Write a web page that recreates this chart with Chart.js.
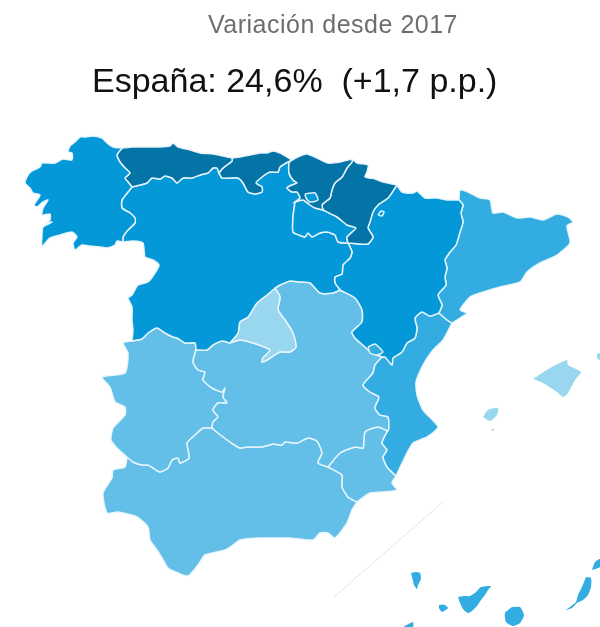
<!DOCTYPE html>
<html lang="es">
<head>
<meta charset="utf-8">
<title>Variación desde 2017</title>
<script src="https://cdn.jsdelivr.net/npm/chart.js@4/dist/chart.umd.min.js"></script>
<style>
    html, body { margin: 0; padding: 0; background: #fff; }
    #wrap { position: relative; width: 600px; height: 627px; overflow: hidden; font-family: "Liberation Sans", Arial, sans-serif; filter: blur(0.35px); }
    #mapChart { position: absolute; left: 0; top: 0; }
    .label { position: absolute; white-space: pre; line-height: 1; }
    #subtitle { left: 208px; top: 12px; font-size: 25px; letter-spacing: 0.5px; color: #6e6e6e; }
    #headline { left: 92px; top: 63px; font-size: 34px; color: #111; }
</style>
</head>
<body>
<div id="wrap">
    <canvas id="mapChart" width="600" height="627"></canvas>
    <div id="subtitle" class="label">Variación desde 2017</div>
    <div id="headline" class="label">España: 24,6%  (+1,7 p.p.)</div>
</div>
<script>
// Outlines, in map units. Shared borders are kept once and reused.
const galiciaCoast = [[122,148],[113,147],[107,143],[102,138],[93,136],[86,137],[80,137],[75,142],[70,146],[68,152],[72,153],[72,160],[63,159],[55,163],[47,163],[42,163],[40,167],[32,171],[28,175],[25,183],[30,188],[33,193],[40,195],[34,205],[37,207],[43,202],[48,200],[43,208],[42,215],[50,214],[50,220],[45,223],[52,222],[43,227],[42,235],[42,246],[50,238],[60,235],[72,232],[77,237],[73,243],[75,250],[82,245],[90,246],[100,247],[107,248],[115,245],[117,241],[123,242]];
const galiciaCyl = [[123,242],[123,237],[128,230],[135,223],[135,218],[130,213],[122,208],[122,200],[128,192],[132,187]];
const galiciaAsturias = [[132,187],[128,182],[125,178],[130,173],[125,168],[120,162],[117,155],[122,148]];
const asturiasCoast = [[122,148],[133,147],[147,147],[160,147],[170,146],[173,143],[178,147],[190,150],[200,153],[213,154],[223,156],[232,158]];
const asturiasCantabria = [[232,158],[232,161],[227,165],[222,169],[219,173]];
const asturiasCyl = [[132,187],[140,185],[147,183],[152,178],[160,179],[165,176],[172,178],[177,183],[183,178],[192,178],[200,175],[208,173],[213,168],[217,168],[219,173]];
const cantabriaCoast = [[232,158],[240,157],[250,155],[260,153],[267,153],[273,151],[280,153],[287,157],[292,160]];
const cantabriaCyl = [[219,173],[222,178],[230,178],[238,178],[243,183],[248,192],[255,194],[262,192],[262,187],[256,183],[262,177],[270,172],[278,172],[280,167],[286,163],[292,160]];
const basqueCoast = [[292,160],[300,156],[307,154],[317,158],[328,163],[340,162],[352,159]];
const basqueCyl = [[292,160],[289,163],[289,173],[293,180],[297,183],[292,185],[287,188],[292,192],[297,192],[300,198],[295,202]];
const basqueRioja = [[295,202],[303,200],[310,205],[315,208],[323,210]];
const basqueNavarra = [[323,210],[322,205],[325,202],[330,198],[332,190],[335,183],[342,177],[347,168],[352,162],[352,159]];
const riojaCyl = [[295,202],[293,217],[293,232],[299,235],[305,237],[308,233],[312,237],[320,233],[327,232],[335,235],[338,242],[348,243]];
const riojaNavarra = [[348,243],[347,237],[356,228],[347,225],[337,217],[323,210]];
const navarraCoast = [[352,159],[357,163],[368,165],[367,172],[365,177],[375,179],[383,182],[397,185]];
const navarraAragon = [[397,185],[395,188],[388,198],[378,205],[373,212],[370,222],[368,228],[373,237],[368,244],[360,244],[348,243]];
const cylPortugal = [[123,242],[133,241],[143,243],[145,257],[153,260],[159,265],[155,273],[148,282],[138,285],[132,295],[128,298],[132,307],[132,320],[133,330],[132,341]];
const cylExtremadura = [[132,341],[142,339],[148,333],[157,328],[165,333],[173,337],[177,338],[185,343],[195,343],[196,350]];
const cylClmWest = [[196,350],[207,350],[213,345],[222,341],[230,343]];
const cylMadrid = [[230,343],[238,333],[240,322],[248,317],[257,303],[267,295],[275,288]];
const cylClmEast = [[275,288],[280,285],[290,281],[300,282],[310,283],[320,293],[333,293],[340,290]];
const cylAragon = [[340,290],[335,283],[335,277],[342,274],[343,265],[350,258],[352,252],[348,243]];
const madridClm = [[275,288],[280,297],[278,310],[285,320],[293,333],[296,347],[290,352],[280,352],[267,360],[262,362],[263,358],[270,350],[253,343],[240,340],[230,343]];
const aragonCoastNorth = [[397,185],[402,192],[413,193],[417,191],[425,198],[437,198],[447,200],[459,200]];
const aragonCatalonia = [[459,200],[463,205],[461,213],[463,222],[460,232],[456,245],[450,252],[445,260],[447,268],[445,277],[446,285],[438,295],[442,305],[439,313]];
const aragonValencia = [[439,313],[430,316],[422,312],[415,318],[417,328],[415,338],[407,343],[402,352],[393,358],[392,365],[385,357],[382,357]];
const aragonClm = [[382,357],[372,353],[365,347],[355,338],[352,332],[362,322],[362,310],[355,298],[340,290]];
const cataloniaCoast = [[459,200],[460,190],[468,192],[480,198],[490,200],[493,213],[503,212],[517,218],[530,217],[543,220],[557,214],[568,217],[573,222],[567,226],[570,243],[557,255],[540,263],[527,272],[520,282],[500,287],[480,293],[470,297],[460,310],[467,313],[460,318],[452,323]];
const cataloniaValencia = [[452,323],[447,320],[439,313]];
const valenciaCoast = [[452,323],[443,340],[433,350],[423,365],[416,382],[417,395],[423,410],[438,427],[427,437],[413,443],[405,457],[396,476]];
const valenciaMurcia = [[396,476],[387,467],[383,457],[387,450],[382,443],[387,432],[388,431]];
const valenciaClm = [[388,431],[389,428],[388,417],[380,415],[375,408],[379,397],[370,392],[363,385],[373,373],[375,365],[382,357]];
const clmExtremadura = [[196,350],[193,362],[198,370],[205,372],[203,380],[212,388],[222,392],[225,388],[223,397],[227,403],[218,403],[213,410],[218,417],[213,422],[212,428]];
const extremaduraAndalucia = [[212,428],[203,428],[195,435],[187,443],[189,458],[180,463],[178,458],[172,460],[168,468],[160,472],[153,468],[148,465],[142,465],[133,462],[127,457]];
const extremaduraPortugal = [[132,341],[123,343],[128,353],[125,373],[102,377],[110,387],[115,402],[125,407],[125,415],[113,428],[111,440],[117,448],[127,457]];
const clmAndalucia = [[212,428],[218,433],[230,442],[240,448],[247,447],[262,447],[273,444],[282,445],[285,442],[297,443],[308,438],[317,441],[322,453],[318,463],[328,467]];
const clmMurcia = [[328,467],[340,453],[355,447],[363,448],[365,432],[378,427],[388,431]];
const andaluciaMurcia = [[328,467],[342,475],[342,487],[348,497],[357,502]];
const murciaCoast = [[357,502],[370,493],[382,492],[397,490],[392,483],[396,476]];
const andaluciaCoast = [[357,502],[352,510],[347,523],[335,538],[328,533],[320,533],[313,540],[290,538],[277,538],[257,538],[240,540],[233,545],[225,550],[205,555],[198,565],[188,576],[178,573],[168,568],[162,558],[157,550],[150,540],[148,527],[137,517],[118,512],[107,513],[103,493],[112,478],[113,470],[125,467],[127,457]];

// Enclaves and islands
const trevino = [[305,194],[315,193],[318,200],[310,202],[306,198]];
const petilla = [[378,215],[381,211],[384,212],[382,216]];
const ademuz = [[368,347],[375,344],[383,352],[377,355],[370,353]];
const mallorca = [[533,379],[550,368],[567,360],[568,365],[581,372],[575,380],[568,393],[563,397],[557,392],[543,383]];
const menorca = [[597,354],[600,353],[600,360],[597,358]];
const ibiza = [[483,417],[488,410],[498,408],[497,415],[490,421]];
const formentera = [[491,429],[494,429],[493,431]];
const laPalma = [[411,573],[415,572],[420,573],[421,579],[418,585],[417,589],[414,585],[413,581]];
const tenerife = [[458,597],[464,596],[470,596],[476,592],[481,587],[491,586],[488,590],[485,595],[481,600],[477,606],[472,611],[468,613],[463,609],[460,603]];
const gomera = [[439,605],[445,605],[448,608],[442,612],[439,608]];
const granCanaria = [[512,607],[520,607],[524,615],[520,623],[513,626],[506,622],[505,613]];
const fuerteventura = [[586,577],[591,578],[591,587],[588,595],[583,600],[577,603],[572,608],[566,610],[570,607],[576,602],[578,595],[582,587]];
const lanzarote = [[592,570],[595,562],[600,559],[600,567]];
const hierro = [[403,627],[413,622],[413,627]];
const canaryDivider = [[443,502],[334,597]];

const levelColors = ['#99d6f0', '#63bee8', '#33ade1', '#0498d8', '#0473a6'];

function rev(line) {
    return line.slice().reverse();
}

// Region name, colour level, outline
const regions = [
    ['Treviño', 3, trevino],
    ['Petilla', 3, petilla],
    ['Ademuz', 2, ademuz],
    ['Galicia', 3, [...galiciaCoast, ...galiciaCyl, ...galiciaAsturias]],
    ['Asturias', 4, [...asturiasCoast, ...asturiasCantabria, ...rev(asturiasCyl), ...galiciaAsturias]],
    ['Cantabria', 4, [...cantabriaCoast, ...rev(cantabriaCyl), ...rev(asturiasCantabria)]],
    ['País Vasco', 4, [...basqueCoast, ...rev(basqueNavarra), ...rev(basqueRioja), ...rev(basqueCyl)]],
    ['Navarra', 4, [...navarraCoast, ...navarraAragon, ...riojaNavarra, ...basqueNavarra]],
    ['La Rioja', 3, [...basqueRioja, ...rev(riojaNavarra), ...rev(riojaCyl)]],
    ['Castilla y León', 3, [...galiciaCyl, ...asturiasCyl, ...cantabriaCyl, ...basqueCyl, ...riojaCyl, ...rev(cylAragon), ...rev(cylClmEast), ...rev(cylMadrid), ...rev(cylClmWest), ...rev(cylExtremadura), ...rev(cylPortugal)]],
    ['Aragón', 3, [...aragonCoastNorth, ...aragonCatalonia, ...aragonValencia, ...aragonClm, ...cylAragon, ...rev(navarraAragon)]],
    ['Cataluña', 2, [...cataloniaCoast, ...cataloniaValencia, ...rev(aragonCatalonia)]],
    ['C. Valenciana', 2, [...valenciaCoast, ...valenciaMurcia, ...valenciaClm, ...rev(aragonValencia), ...rev(cataloniaValencia)]],
    ['Madrid', 0, [...cylMadrid, ...madridClm]],
    ['Castilla-La Mancha', 1, [...cylClmWest, ...rev(madridClm), ...cylClmEast, ...rev(aragonClm), ...rev(valenciaClm), ...rev(clmMurcia), ...rev(clmAndalucia), ...rev(clmExtremadura)]],
    ['Extremadura', 1, [...cylExtremadura, ...clmExtremadura, ...extremaduraAndalucia, ...rev(extremaduraPortugal)]],
    ['Murcia', 1, [...clmMurcia, ...rev(valenciaMurcia), ...rev(murciaCoast), ...rev(andaluciaMurcia)]],
    ['Andalucía', 1, [...clmAndalucia, ...andaluciaMurcia, ...andaluciaCoast, ...rev(extremaduraAndalucia)]]
];

const islands = [
    ['Mallorca', 0, mallorca],
    ['Menorca', 0, menorca],
    ['Ibiza', 0, ibiza],
    ['Formentera', 0, formentera],
    ['La Palma', 2, laPalma],
    ['Tenerife', 2, tenerife],
    ['La Gomera', 2, gomera],
    ['Gran Canaria', 2, granCanaria],
    ['Fuerteventura', 2, fuerteventura],
    ['Lanzarote', 2, lanzarote],
    ['El Hierro', 2, hierro]
];

function toPoints(line) {
    return line.map(p => ({ x: p[0], y: p[1] }));
}

function shape(item, borderWidth) {
    const color = levelColors[item[1]];
    return {
        label: item[0],
        data: toPoints([...item[2], item[2][0]]),
        showLine: true,
        fill: 'shape',
        tension: 0.2,
        pointRadius: 0,
        backgroundColor: color,
        borderColor: borderWidth ? 'rgba(235,247,253,0.95)' : color,
        borderWidth: borderWidth
    };
}

const datasets = [
    ...islands.map(item => shape(item, 0)),
    ...regions.map(item => shape(item, 1.5)),
    {
        label: 'Canarias',
        data: toPoints(canaryDivider),
        showLine: true,
        pointRadius: 0,
        borderColor: '#e4e4e4',
        borderWidth: 1
    }
];

new Chart(document.getElementById('mapChart').getContext('2d'), {
    type: 'scatter',
    data: { datasets: datasets },
    options: {
        responsive: false,
        animation: false,
        layout: { padding: 0 },
        plugins: { legend: { display: false }, tooltip: { enabled: false } },
        scales: {
            x: { type: 'linear', min: 0, max: 600, display: false },
            y: { type: 'linear', min: 0, max: 627, reverse: true, display: false }
        }
    }
});
</script>
</body>
</html>
